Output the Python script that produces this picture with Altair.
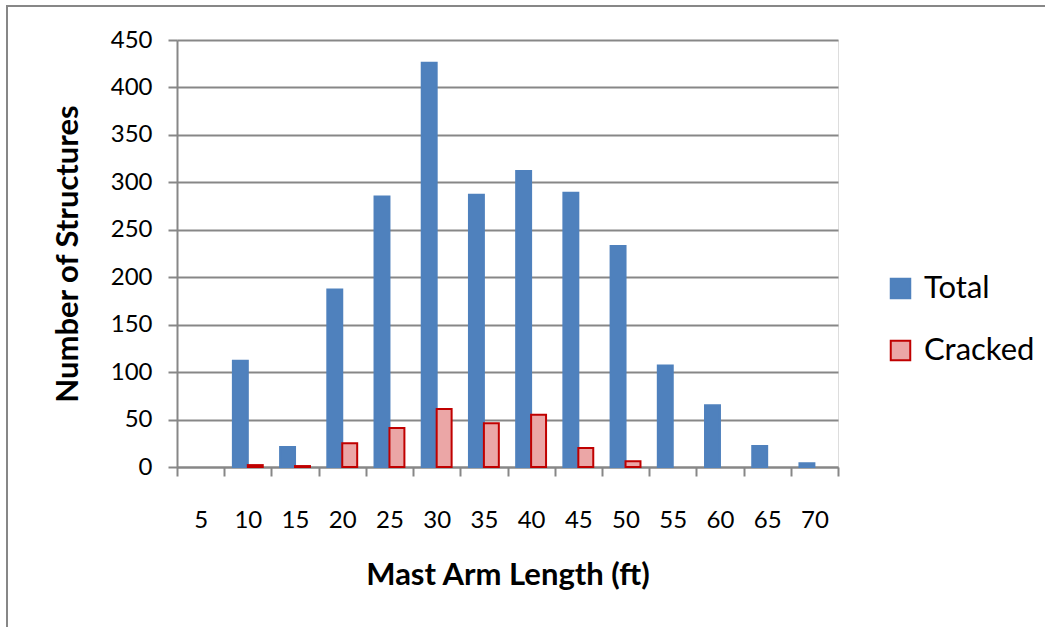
import altair as alt
import pandas as pd

lengths = [5, 10, 15, 20, 25, 30, 35, 40, 45, 50, 55, 60, 65, 70]
total = [0, 112, 21, 187, 285, 426, 287, 312, 289, 233, 107, 65, 22, 4]
cracked = [0, 2, 1, 25, 41, 61, 46, 55, 20, 6, 0, 0, 0, 0]
series = ["Total", "Cracked"]

rows = []
for L, t, c in zip(lengths, total, cracked):
    rows.append({"length": str(L), "series": "Total", "value": t})
    rows.append({"length": str(L), "series": "Cracked", "value": c})
df = pd.DataFrame(rows)

FONT = "Lato"
GRAY = "#878787"
cats = [str(v) for v in lengths]

leg = dict(title=None, orient="none", legendX=708, legendY=233,
           symbolType="square", symbolSize=380, labelFontSize=31,
           labelFont=FONT, labelColor="#000", rowPadding=30,
           labelOffset=8, symbolStrokeWidth=2)

bars = alt.Chart(df).transform_filter("datum.value > 0").mark_bar(strokeWidth=2).encode(
    x=alt.X("length:N", sort=cats,
            scale=alt.Scale(domain=cats, paddingInner=0, paddingOuter=0),
            axis=alt.Axis(title="Mast Arm Length (ft)", labelAngle=0, tickBand="extent",
                          domainColor=GRAY, domainWidth=2, tickColor=GRAY, tickWidth=2,
                          tickSize=9, labelPadding=32, labelFontSize=24, labelColor="#000",
                          labelFont=FONT, titleFont=FONT, titleFontSize=31, titleFontWeight="bold",
                          titlePadding=28, grid=False)),
    xOffset=alt.XOffset("series:N", sort=series, scale=alt.Scale(domain=series, paddingInner=0, paddingOuter=0.58)),
    y=alt.Y("value:Q", scale=alt.Scale(domain=[0, 450], nice=False),
            axis=alt.Axis(title="Number of Structures", values=list(range(0, 451, 50)),
                          domainColor=GRAY, domainWidth=2, tickColor=GRAY, tickWidth=2,
                          tickSize=9, labelPadding=16, labelFontSize=24, labelColor="#000",
                          labelFont=FONT, titleFont=FONT, titleFontSize=31, titleFontWeight="bold",
                          titlePadding=26, grid=True, gridColor=GRAY, gridWidth=2)),
    fill=alt.Fill("series:N", sort=series,
                  scale=alt.Scale(domain=series, range=["#4F81BD", "#EBA6A6"]),
                  legend=alt.Legend(**leg)),
    stroke=alt.Stroke("series:N", sort=series,
                      scale=alt.Scale(domain=series, range=["#4F81BD", "#C00000"]),
                      legend=alt.Legend(**leg)),
)

frame = alt.Chart(pd.DataFrame({"a": [0]})).mark_rect(
    fill=None, stroke=GRAY, strokeWidth=2
).encode(x=alt.value(-170), x2=alt.value(950), y=alt.value(-34), y2=alt.value(700))

chart = alt.layer(frame, bars).properties(
    width=661, height=427,
    autosize=alt.AutoSizeParams(type="none"),
    padding={"left": 177, "top": 40, "right": 207, "bottom": 160},
).configure_view(stroke=None).configure(background="white")

chart.save("out.html", embed_options={"renderer": "svg", "actions": False})
